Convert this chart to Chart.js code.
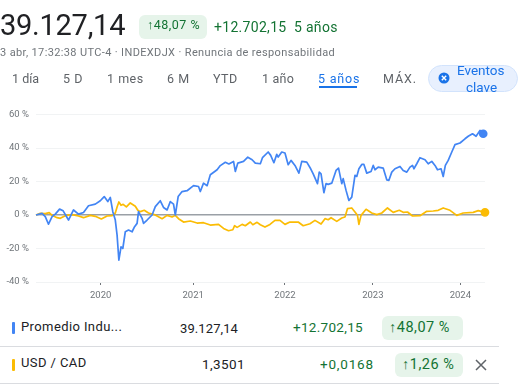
<!DOCTYPE html>
<html lang="es">
<head>
<meta charset="utf-8">
<script src="https://cdn.jsdelivr.net/npm/chart.js@4/dist/chart.umd.min.js"></script>
<style>
  html, body { margin: 0; padding: 0; background: #fff; overflow: hidden; }
  body { width: 524px; height: 389px; position: relative; font-family: Roboto, sans-serif; color: #202124; }
  #chartBox { position: absolute; left: 0; top: 0; width: 524px; height: 300px; }
  .t { position: absolute; white-space: nowrap; line-height: 1; transform: translateY(-50%); }
  .green { color: #137333; }
  .tab { font-size: 12.5px; color: #5f6368; letter-spacing: 0.5px; top: 79px; }
  .chip { position: absolute; background: #e6f4ea; border-radius: 6px; }
  .rule { position: absolute; left: 0; width: 499px; height: 1px; background: #dadce0; }
  .bar { position: absolute; left: 12px; width: 3px; height: 12px; border-radius: 1px; }
  .num { font-size: 13px; letter-spacing: 0.2px; }
</style>
</head>
<body>
<div id="chartBox"><canvas id="chart"></canvas></div>

<div class="t" style="left:0;top:25px;font-size:29px;letter-spacing:-0.25px">39.127,14</div>
<div class="chip" style="left:139px;top:15px;width:68px;height:24px"></div>
<div class="t green" style="left:147px;top:25px;font-size:12.5px;letter-spacing:0.5px">↑48,07 %</div>
<div class="t green" style="left:214px;top:27px;font-size:14px;letter-spacing:0.3px">+12.702,15&nbsp; 5 años</div>
<div class="t" style="left:0;top:52px;font-size:11px;color:#70757a;letter-spacing:0.36px">3 abr, 17:32:38 UTC-4 · INDEXDJX · Renuncia de responsabilidad</div>

<div class="t tab" style="left:12px;letter-spacing:0">1 día</div>
<div class="t tab" style="left:63px">5 D</div>
<div class="t tab" style="left:107px">1 mes</div>
<div class="t tab" style="left:167px">6 M</div>
<div class="t tab" style="left:213px">YTD</div>
<div class="t tab" style="left:262px;letter-spacing:0.2px">1 año</div>
<div class="t tab" style="left:318px;color:#1a73e8;letter-spacing:0.8px">5 años</div>
<div style="position:absolute;left:319px;top:86px;width:38px;height:2px;background:#1a73e8"></div>
<div class="t tab" style="left:383px;letter-spacing:0.9px">MÁX.</div>

<div style="position:absolute;left:428px;top:65px;width:90px;height:27px;box-sizing:border-box;background:#e8f0fe;border:1px solid #d2e3fc;border-radius:14px"></div>
<svg style="position:absolute;left:438px;top:72px" width="12" height="12" viewBox="0 0 12 12">
  <circle cx="6" cy="6" r="5.5" fill="#1a73e8"/>
  <path d="M3.8 3.8L8.2 8.2M8.2 3.8L3.8 8.2" stroke="#fff" stroke-width="1.4"/>
</svg>
<div class="t" style="left:457px;top:71px;font-size:13.5px;color:#1a73e8">Eventos</div>
<div class="t" style="left:466px;top:88px;font-size:13.5px;color:#1a73e8">clave</div>

<div class="bar" style="top:322px;background:#4285f4"></div>
<div class="t" style="left:21px;top:326px;font-size:13px;letter-spacing:0.4px">Promedio Indu...</div>
<div class="t num" style="left:180px;top:328px;letter-spacing:0.1px">39.127,14</div>
<div class="t num green" style="left:293px;top:328px;font-size:13.5px;letter-spacing:0.3px">+12.702,15</div>
<div class="chip" style="left:382px;top:316px;width:81px;height:24px"></div>
<div class="t green" style="left:389px;top:328px;font-size:14.5px;letter-spacing:0.5px">↑48,07 %</div>
<div class="rule" style="top:346px"></div>

<div class="bar" style="top:359px;background:#fbbc04"></div>
<div class="t" style="left:21px;top:362px;font-size:13px;letter-spacing:0.4px">USD / CAD</div>
<div class="t num" style="left:202px;top:365px;font-size:13.5px;letter-spacing:0.4px">1,3501</div>
<div class="t num green" style="left:320px;top:365px;font-size:13.5px;letter-spacing:0.8px">+0,0168</div>
<div class="chip" style="left:395px;top:353px;width:68px;height:24px"></div>
<div class="t green" style="left:402px;top:365px;font-size:14.5px;letter-spacing:0.5px">↑1,26 %</div>
<svg style="position:absolute;left:475px;top:359px" width="12" height="12" viewBox="0 0 12 12">
  <path d="M1 1L11 11M11 1L1 11" stroke="#5f6368" stroke-width="1.5"/>
</svg>
<div class="rule" style="top:383px"></div>

<script>
// x is the trading session counted from the start of the 5 year range
const lastSession = 1257;
const yearSessions = [181, 440, 697, 943, 1188];
const yearLabels = ["2020", "2021", "2022", "2023", "2024"];
const yTicks = [-40, -20, 0, 20, 40, 60];

const djiSessions = [0, 17, 26, 35, 45, 54, 66, 76, 91, 105, 119, 133, 147, 166, 180, 191, 201, 208, 215, 222,
  227, 232, 238, 243, 250, 259, 269, 276, 283, 287, 297, 301, 311, 325, 334, 348, 357, 367, 376, 385,
  390, 398, 409, 423, 441, 455, 460, 469, 479, 488, 507, 516, 530, 540, 553, 558, 565, 581, 593, 605,
  614, 628, 634, 650, 657, 666, 674, 678, 688, 697, 706, 714, 725, 736, 744, 758, 769, 776, 788, 793,
  798, 806, 812, 818, 828, 840, 847, 856, 860, 868, 876, 884, 893, 898, 904, 912, 918, 926, 938, 944,
  949, 958, 972, 982, 988, 996, 1005, 1019, 1028, 1038, 1047, 1054, 1058, 1066, 1075, 1089, 1098, 1108, 1117, 1124,
  1134, 1140, 1146, 1154, 1164, 1173, 1187, 1201, 1210, 1222, 1232, 1243, 1252];
const djiValues = [0, 1, -1, -5.5, -1, 0.5, 3.5, 2.5, -3, 3, 0.5, 1.5, 5.5, 6.5, 8.5, 11, 8, 10.5, 2, -3,
  -12, -27, -19, -20, -10, -9, -10, -7, -5, 2, -2, -5, -3, 0, 5, 8.5, 4.5, 3, 8, 6.5,
  0, 11, 14, 14.5, 17.5, 17, 14, 19, 17.5, 24, 27, 29.5, 31.5, 30.5, 32, 26, 31, 32, 34.5, 33,
  31, 30.6, 34.2, 37.6, 35.6, 31.2, 36.2, 34.6, 37.6, 37, 30, 32.6, 29.6, 25, 32, 31.6, 27.6, 24.6, 18.7, 25.6,
  24.6, 13.3, 18.7, 18.3, 19, 26.6, 28, 18.7, 21.7, 14.7, 8.7, 10.7, 23.7, 23, 27.6, 30.2, 30.2, 25, 26, 29.6,
  27, 28.6, 28, 21, 20.7, 25.6, 27.6, 29, 26.6, 25.6, 28.6, 29.6, 27.6, 30.6, 34.2, 33, 30.6, 32, 29.6, 27,
  27.6, 23, 29.6, 32.6, 37.6, 42, 43, 45.5, 47, 48.5, 47, 50.5, 48.5];

const cadSessions = [0, 12, 26, 37, 45, 59, 68, 82, 101, 119, 133, 152, 166, 183, 199, 213, 222, 227, 232, 238,
  244, 253, 264, 278, 285, 292, 303, 315, 329, 339, 353, 367, 381, 390, 399, 413, 432, 451, 469, 488,
  511, 525, 539, 551, 556, 563, 577, 586, 600, 607, 619, 628, 641, 655, 669, 683, 697, 711, 734, 748,
  767, 781, 798, 809, 818, 826, 842, 856, 865, 872, 884, 893, 900, 904, 910, 924, 940, 954, 968, 984,
  1000, 1017, 1028, 1040, 1054, 1075, 1094, 1112, 1126, 1140, 1159, 1178, 1196, 1224, 1238, 1257];
const cadValues = [0, 1, 0.8, 1.4, -0.2, -1.6, -2, -0.4, 0.2, -0.6, -1.6, -0.2, -0.8, -2.4, -0.6, -0.4, 1.2, 4.8, 7.8, 5.8,
  6.4, 4.8, 7.2, 5.2, 2.8, 2, 2.8, 1.2, 0.4, -0.6, -2.2, -0.2, -1.2, -0.2, -2.2, -4.2, -3.6, -4.8, -4.6, -6,
  -5.6, -8, -9.4, -8.8, -6.4, -7.4, -5.6, -6.4, -4.2, -5.8, -4.4, -5.8, -7.2, -5.6, -3.2, -3.2, -5.6, -4.2, -4.2, -6.4,
  -5.2, -3.2, -5.4, -2.2, -2.8, -1.6, -3.8, -1.8, -1.2, 3.8, 4.2, 1.8, -0.2, -5.6, -0.2, 3.4, 1.2, 0.2, 1.2, 4.2,
  1.6, 2.8, 1.6, 1.8, -0.6, -0.4, 2.2, 2.4, 2.8, 4.2, 2.8, -0.2, 1.2, 1.6, 2.6, 1.6];

function toPoints(xs, ys) {
  return xs.map((x, i) => ({ x: x, y: ys[i] }));
}

function seriesStyle(label, xs, ys, color) {
  const last = xs.length - 1;
  return {
    label: label,
    data: toPoints(xs, ys),
    borderColor: color,
    backgroundColor: color,
    borderWidth: 1.7,
    borderJoinStyle: "round",
    pointRadius: (ctx) => (ctx.dataIndex === last ? 3.5 : 0),
    pointHoverRadius: 0,
    tension: 0,
    clip: false,
  };
}

new Chart(document.getElementById("chart"), {
  type: "line",
  data: {
    datasets: [
      seriesStyle("Promedio Industrial Dow Jones", djiSessions, djiValues, "#4285f4"),
      seriesStyle("USD / CAD", cadSessions, cadValues, "#fbbc04"),
    ],
  },
  options: {
    responsive: true,
    maintainAspectRatio: false,
    animation: false,
    layout: { padding: { top: 114.5, right: 39, left: 0, bottom: 0 } },
    plugins: { legend: { display: false }, tooltip: { enabled: false } },
    scales: {
      x: {
        type: "linear",
        min: 0,
        max: lastSession,
        afterFit: (scale) => { scale.height = 18; },
        afterBuildTicks: (scale) => {
          scale.ticks = yearSessions.map((v) => ({ value: v }));
        },
        grid: { drawOnChartArea: false, drawTicks: true, tickLength: 3, color: "#70757a" },
        border: { display: false },
        ticks: {
          autoSkip: false,
          maxRotation: 0,
          padding: 5,
          color: "#70757a",
          font: { family: "Roboto", size: 9.5 },
          callback: (v) => yearLabels[yearSessions.indexOf(v)],
        },
      },
      y: {
        min: -40,
        max: 60,
        afterFit: (scale) => { scale.width = 36; },
        afterBuildTicks: (scale) => {
          scale.ticks = yTicks.map((v) => ({ value: v }));
        },
        grid: {
          drawTicks: false,
          color: (ctx) => (ctx.tick.value === 0 ? "#9aa0a6" : "#f1f3f4"),
          lineWidth: (ctx) => (ctx.tick.value === 0 ? 1.5 : 1),
        },
        border: { display: false },
        ticks: {
          padding: 7,
          color: "#70757a",
          font: { family: "Roboto", size: 9.5 },
          callback: (v) => v + " %",
        },
      },
    },
  },
});
</script>
</body>
</html>
